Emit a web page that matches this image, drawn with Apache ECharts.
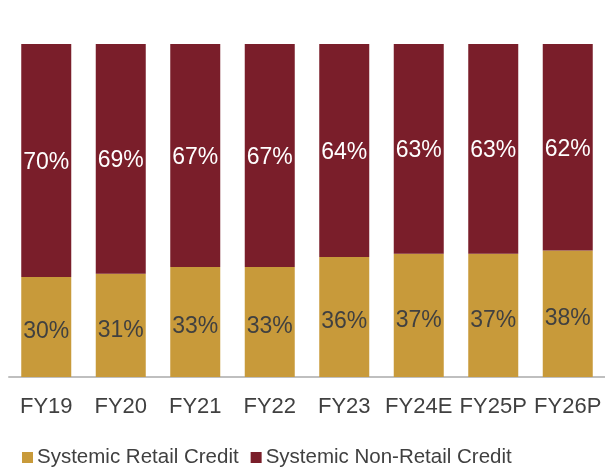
<!DOCTYPE html>
<html>
<head>
<meta charset="utf-8">
<script src="https://cdn.jsdelivr.net/npm/echarts@6/dist/echarts.min.js"></script>
<style>
  html, body { margin: 0; padding: 0; background: #fff; }
  #chart { width: 605px; height: 468px; }
</style>
</head>
<body>
<div id="chart"></div>
<script>
// Share of systemic credit by segment, per fiscal year (%)
const categories = ['FY19', 'FY20', 'FY21', 'FY22', 'FY23', 'FY24E', 'FY25P', 'FY26P'];
const retailShare = [30, 31, 33, 33, 36, 37, 37, 38];
const nonRetailShare = [70, 69, 67, 67, 64, 63, 63, 62];
const seriesNames = ['Systemic Retail Credit', 'Systemic Non-Retail Credit'];

const FONT = '"Liberation Sans", Arial, sans-serif';
const chart = echarts.init(document.getElementById('chart'), null, { renderer: 'canvas' });

chart.setOption({
  animation: false,
  grid: { left: 9, right: 0, top: 44, bottom: 91, containLabel: false },
  legend: {
    top: 442,
    left: 17,
    itemWidth: 11,
    itemHeight: 11,
    itemGap: 12,
    icon: 'rect',
    textStyle: { fontFamily: FONT, fontSize: 20.5, color: '#404040', padding: [0, 0, 0, -1] },
    data: seriesNames
  },
  xAxis: {
    type: 'category',
    data: categories,
    axisLine: { lineStyle: { color: '#BFBFBF', width: 2 } },
    axisTick: { show: false },
    axisLabel: { interval: 0, fontFamily: FONT, fontSize: 22, color: '#404040', margin: 19 }
  },
  yAxis: {
    type: 'value',
    min: 0,
    max: 100,
    show: false
  },
  series: [
    {
      name: seriesNames[0],
      type: 'bar',
      stack: 'total',
      barWidth: 50,
      data: retailShare,
      itemStyle: { color: '#C89A3A' },
      label: {
        show: true,
        position: 'inside',
        formatter: '{c}%',
        fontFamily: FONT,
        fontSize: 23,
        color: '#404040',
        offset: [0, 5]
      }
    },
    {
      name: seriesNames[1],
      type: 'bar',
      stack: 'total',
      barWidth: 50,
      data: nonRetailShare,
      itemStyle: { color: '#7A1E2A' },
      label: {
        show: true,
        position: 'inside',
        formatter: '{c}%',
        fontFamily: FONT,
        fontSize: 23,
        color: '#FFFFFF',
        offset: [0, 2]
      }
    }
  ]
});
</script>
</body>
</html>
